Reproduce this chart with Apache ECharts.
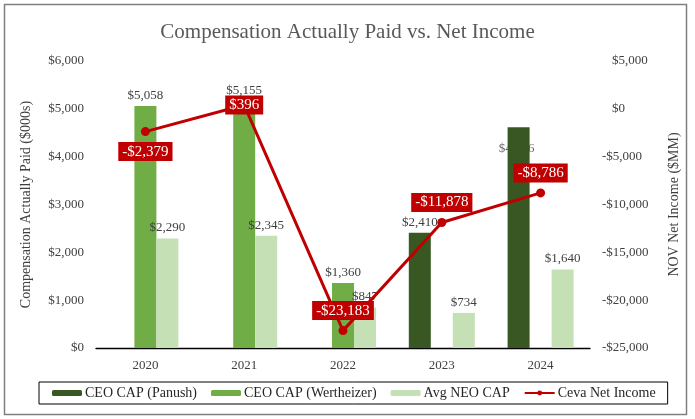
<!DOCTYPE html>
<html><head><meta charset="utf-8">
<script src="https://cdn.jsdelivr.net/npm/echarts@6/dist/echarts.min.js"></script>
<style>html,body{margin:0;padding:0;background:#fff}#c{width:695px;height:419px}</style>
</head><body><div id="c"></div>
<script>
const categories = ['2020', '2021', '2022', '2023', '2024'];
const ceoPanush = [null, null, null, 2410, 4616];
const ceoWertheizer = [5058, 5155, 1360, null, null];
const avgNeo = [2290, 2345, 847, 734, 1640];
const netIncome = [-2379, 396, -23183, -11878, -8786];
const leftTicks = [0, 1000, 2000, 3000, 4000, 5000, 6000];
const rightTicks = [-25000, -20000, -15000, -10000, -5000, 0, 5000];

const FONT = '"Liberation Serif", "Times New Roman", serif';
const money = v => (v < 0 ? '-$' : '$') + Math.abs(v).toLocaleString('en-US');
const lineLabelPos = ['bottom', 'inside', 'top', 'top', 'top'];
// which Panush labels sit inside (hidden behind) their bar, as in the reference
const panushHiddenLabel = [false, false, false, false, true];

const chart = echarts.init(document.getElementById('c'), null, {renderer: 'canvas'});
const barLabel = {show: true, position: 'top', distance: 4, fontFamily: FONT, fontSize: 13, color: '#404040',
  formatter: p => p.value == null ? '' : money(p.value)};

chart.setOption({
  animation: false,
  backgroundColor: '#fff',
  graphic: [{type: 'rect', shape: {x: 4.5, y: 4.5, width: 682, height: 410}, style: {fill: 'none', stroke: '#7f7f7f', lineWidth: 1.5}, silent: true}],
  title: {text: 'Compensation Actually Paid vs. Net Income', left: 'center', top: 17,
    textStyle: {fontFamily: FONT, fontSize: 21, fontWeight: 'normal', color: '#595959'}},
  legend: {
    data: ['CEO CAP (Panush)', 'CEO CAP (Wertheizer)', 'Avg NEO CAP', 'Ceva Net Income'],
    left: 39, top: 382, width: 619, height: 24,
    borderColor: '#000', borderWidth: 1, padding: [4, 12, 4, 13],
    itemWidth: 30, itemHeight: 6, itemGap: 14,
    textStyle: {fontFamily: FONT, fontSize: 14, color: '#262626', padding: [0, 0, 0, -2]}
  },
  grid: {left: 96, right: 105, top: 61, bottom: 71, containLabel: false},
  xAxis: {type: 'category', data: categories,
    axisLine: {lineStyle: {color: '#000', width: 1.3}}, axisTick: {show: false},
    axisLabel: {fontFamily: FONT, fontSize: 13, color: '#404040', margin: 11}},
  yAxis: [
    {type: 'value', min: leftTicks[0], max: leftTicks[leftTicks.length - 1], interval: 1000,
      name: 'Compensation Actually Paid ($000s)', nameLocation: 'middle', nameGap: 63, nameRotate: 90,
      nameTextStyle: {fontFamily: FONT, fontSize: 14, color: '#404040'},
      splitLine: {show: false}, axisLine: {show: false}, axisTick: {show: false},
      axisLabel: {fontFamily: FONT, fontSize: 13, color: '#404040', margin: 12, formatter: v => money(v)}},
    {type: 'value', min: rightTicks[0], max: rightTicks[rightTicks.length - 1], interval: 5000,
      name: 'NOV Net Income ($MM)', nameLocation: 'middle', nameGap: 77, nameRotate: 90,
      nameTextStyle: {fontFamily: FONT, fontSize: 14, color: '#404040'},
      splitLine: {show: false}, axisLine: {show: false}, axisTick: {show: false},
      axisLabel: {fontFamily: FONT, fontSize: 13, color: '#404040', margin: 12,
        formatter: v => v < 0 ? money(v) : '{p|' + money(v) + '}',
        rich: {p: {fontFamily: FONT, fontSize: 13, color: '#404040', padding: [0, 0, 0, 10]}}}}
  ],
  series: [
    {name: 'CEO CAP (Panush) hidden label', type: 'scatter', z: 1, symbolSize: 0, silent: true,
      data: ceoPanush.map((v, i) => panushHiddenLabel[i] ? v : null),
      label: {show: true, position: 'bottom', distance: 15, fontFamily: FONT, fontSize: 13, color: '#404040',
        offset: [-24, 0], formatter: p => money(p.value)}},
    {name: 'CEO CAP (Panush)', type: 'bar', data: ceoPanush.map((v, i) => ({value: v, label: {show: !panushHiddenLabel[i]}})),
      barWidth: 22, barGap: '0%', itemStyle: {color: '#385723'}, label: barLabel, z: 2},
    {name: 'CEO CAP (Wertheizer)', type: 'bar', data: ceoWertheizer, barWidth: 22, barGap: '0%',
      itemStyle: {color: '#70AD47'}, label: barLabel, z: 2},
    {name: 'Avg NEO CAP', type: 'bar', data: avgNeo, barWidth: 22, barGap: '0%',
      itemStyle: {color: '#C5E0B4'}, label: barLabel, z: 2},
    {name: 'Ceva Net Income', type: 'line', yAxisIndex: 1,
      data: netIncome.map((v, i) => ({value: v, label: {position: lineLabelPos[i]}})),
      lineStyle: {color: '#C00000', width: 3}, itemStyle: {color: '#C00000'},
      symbol: 'circle', symbolSize: 9, z: 5,
      label: {show: true, distance: 6, fontFamily: FONT, fontSize: 15, color: '#fff',
        backgroundColor: '#C00000', padding: [2, 4, 2, 4], formatter: p => money(p.value)}}
  ]
});
</script></body></html>
